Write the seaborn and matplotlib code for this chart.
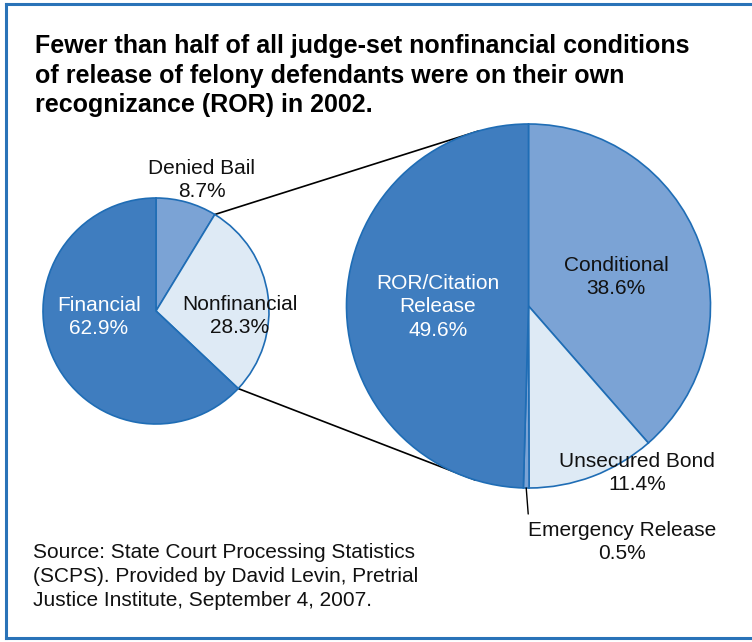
import numpy as np
import matplotlib
matplotlib.use("Agg")
import matplotlib.pyplot as plt
from matplotlib.lines import Line2D
import seaborn as sns

# ---- data ----
outer_labels = ["Denied Bail", "Nonfinancial", "Financial"]
outer_values = [8.7, 28.3, 62.9]
inner_labels = ["Conditional", "Unsecured Bond", "Emergency Release", "ROR/Citation\nRelease"]
inner_values = [38.6, 11.4, 0.5, 49.6]
title_lines = ["Fewer than half of all judge-set nonfinancial conditions",
               "of release of felony defendants were on their own",
               "recognizance (ROR) in 2002."]
source_lines = ["Source: State Court Processing Statistics",
                "(SCPS). Provided by David Levin, Pretrial",
                "Justice Institute, September 4, 2007."]

# ---- style ----
sns.set_theme(style="white")
plt.rcParams['font.family'] = ['Liberation Sans', 'DejaVu Sans']

DARK = "#3f7dbf"
MED = "#7ba3d5"
LIGHT = "#deeaf5"
EDGE = "#1f6db5"
BORDER = "#2a73b8"

W, H = 752, 642
fig = plt.figure(figsize=(W / 100, H / 100), dpi=100)
ax = fig.add_axes([0, 0, 1, 1])

def Y(py):
    return H - py

# small pie
c1 = (156, Y(311)); r1 = 113
w1, _ = ax.pie(outer_values, colors=[MED, LIGHT, DARK], startangle=90,
               counterclock=False, center=c1, radius=r1,
               wedgeprops=dict(edgecolor=EDGE, linewidth=1.2), frame=True)

# big pie
c2 = (528.5, Y(306)); r2 = 182
w2, _ = ax.pie(inner_values, colors=[MED, LIGHT, MED, DARK], startangle=90,
               counterclock=False, center=c2, radius=r2,
               wedgeprops=dict(edgecolor=EDGE, linewidth=1.2), frame=True)
ax.set_xlim(0, W)
ax.set_ylim(0, H)
ax.set_aspect("equal")
ax.axis("off")

# connecting lines from Nonfinancial wedge edges to big pie
nf = w1[1]
a_top, a_bot = np.deg2rad(nf.theta2), np.deg2rad(nf.theta1)
p1 = (c1[0] + r1 * np.cos(a_top), c1[1] + r1 * np.sin(a_top))
p2 = (c1[0] + r1 * np.cos(a_bot), c1[1] + r1 * np.sin(a_bot))
q1 = (c2[0] + r2 * np.cos(np.deg2rad(106)), c2[1] + r2 * np.sin(np.deg2rad(106)))
q2 = (c2[0] + r2 * np.cos(np.deg2rad(-107)), c2[1] + r2 * np.sin(np.deg2rad(-107)))
ax.plot([p1[0], q1[0]], [p1[1], q1[1]], color="black", lw=1.2, zorder=0)
ax.plot([p2[0], q2[0]], [p2[1], q2[1]], color="black", lw=1.2, zorder=0)

# emergency leader
em = w2[2]
am = np.deg2rad((em.theta1 + em.theta2) / 2)
e0 = (c2[0] + r2 * np.cos(am), c2[1] + r2 * np.sin(am))
ax.plot([e0[0], e0[0] + 2], [e0[1], Y(514)], color="black", lw=1.0)

fs = 15.0
def lab(x, y, s, color="#111111"):
    ax.text(x, Y(y), s, ha="center", va="center", fontsize=fs, color=color,
            linespacing=1.3)

lab(202, 180, f"{outer_labels[0]}\n{outer_values[0]}%")
lab(240, 316, f"{outer_labels[1]}\n{outer_values[1]}%")
lab(99, 317, f"{outer_labels[2]}\n{outer_values[2]}%", color="white")
lab(616, 277, f"{inner_labels[0]}\n{inner_values[0]}%")
lab(637, 473, f"{inner_labels[1]}\n{inner_values[1]}%")
lab(622, 542, f"{inner_labels[2]}\n{inner_values[2]}%")
lab(438, 307, f"{inner_labels[3]}\n{inner_values[3]}%", color="white")

# title
for i, line in enumerate(title_lines):
    ax.text(35, Y(46 + 29.5 * i), line, ha="left", va="center", fontsize=18,
            fontweight="bold", color="black",
            family=['Liberation Sans Narrow', 'Liberation Sans', 'DejaVu Sans'])

# source
for i, line in enumerate(source_lines):
    ax.text(33, Y(553 + 24 * i), line, ha="left", va="center", fontsize=fs,
            color="#111111")

# border (left, top, bottom; open on the right)
bx0, by0, by1 = 6 / W, 1 - 4 / H, 1 - 638 / H
for xs, ys in [([bx0, bx0], [by1, by0]), ([bx0, 1], [by0, by0]), ([bx0, 1], [by1, by1])]:
    fig.add_artist(Line2D(xs, ys, transform=fig.transFigure, color=BORDER,
                          linewidth=2.2, solid_capstyle="projecting"))

fig.savefig("out.png", dpi=100, facecolor="white")
